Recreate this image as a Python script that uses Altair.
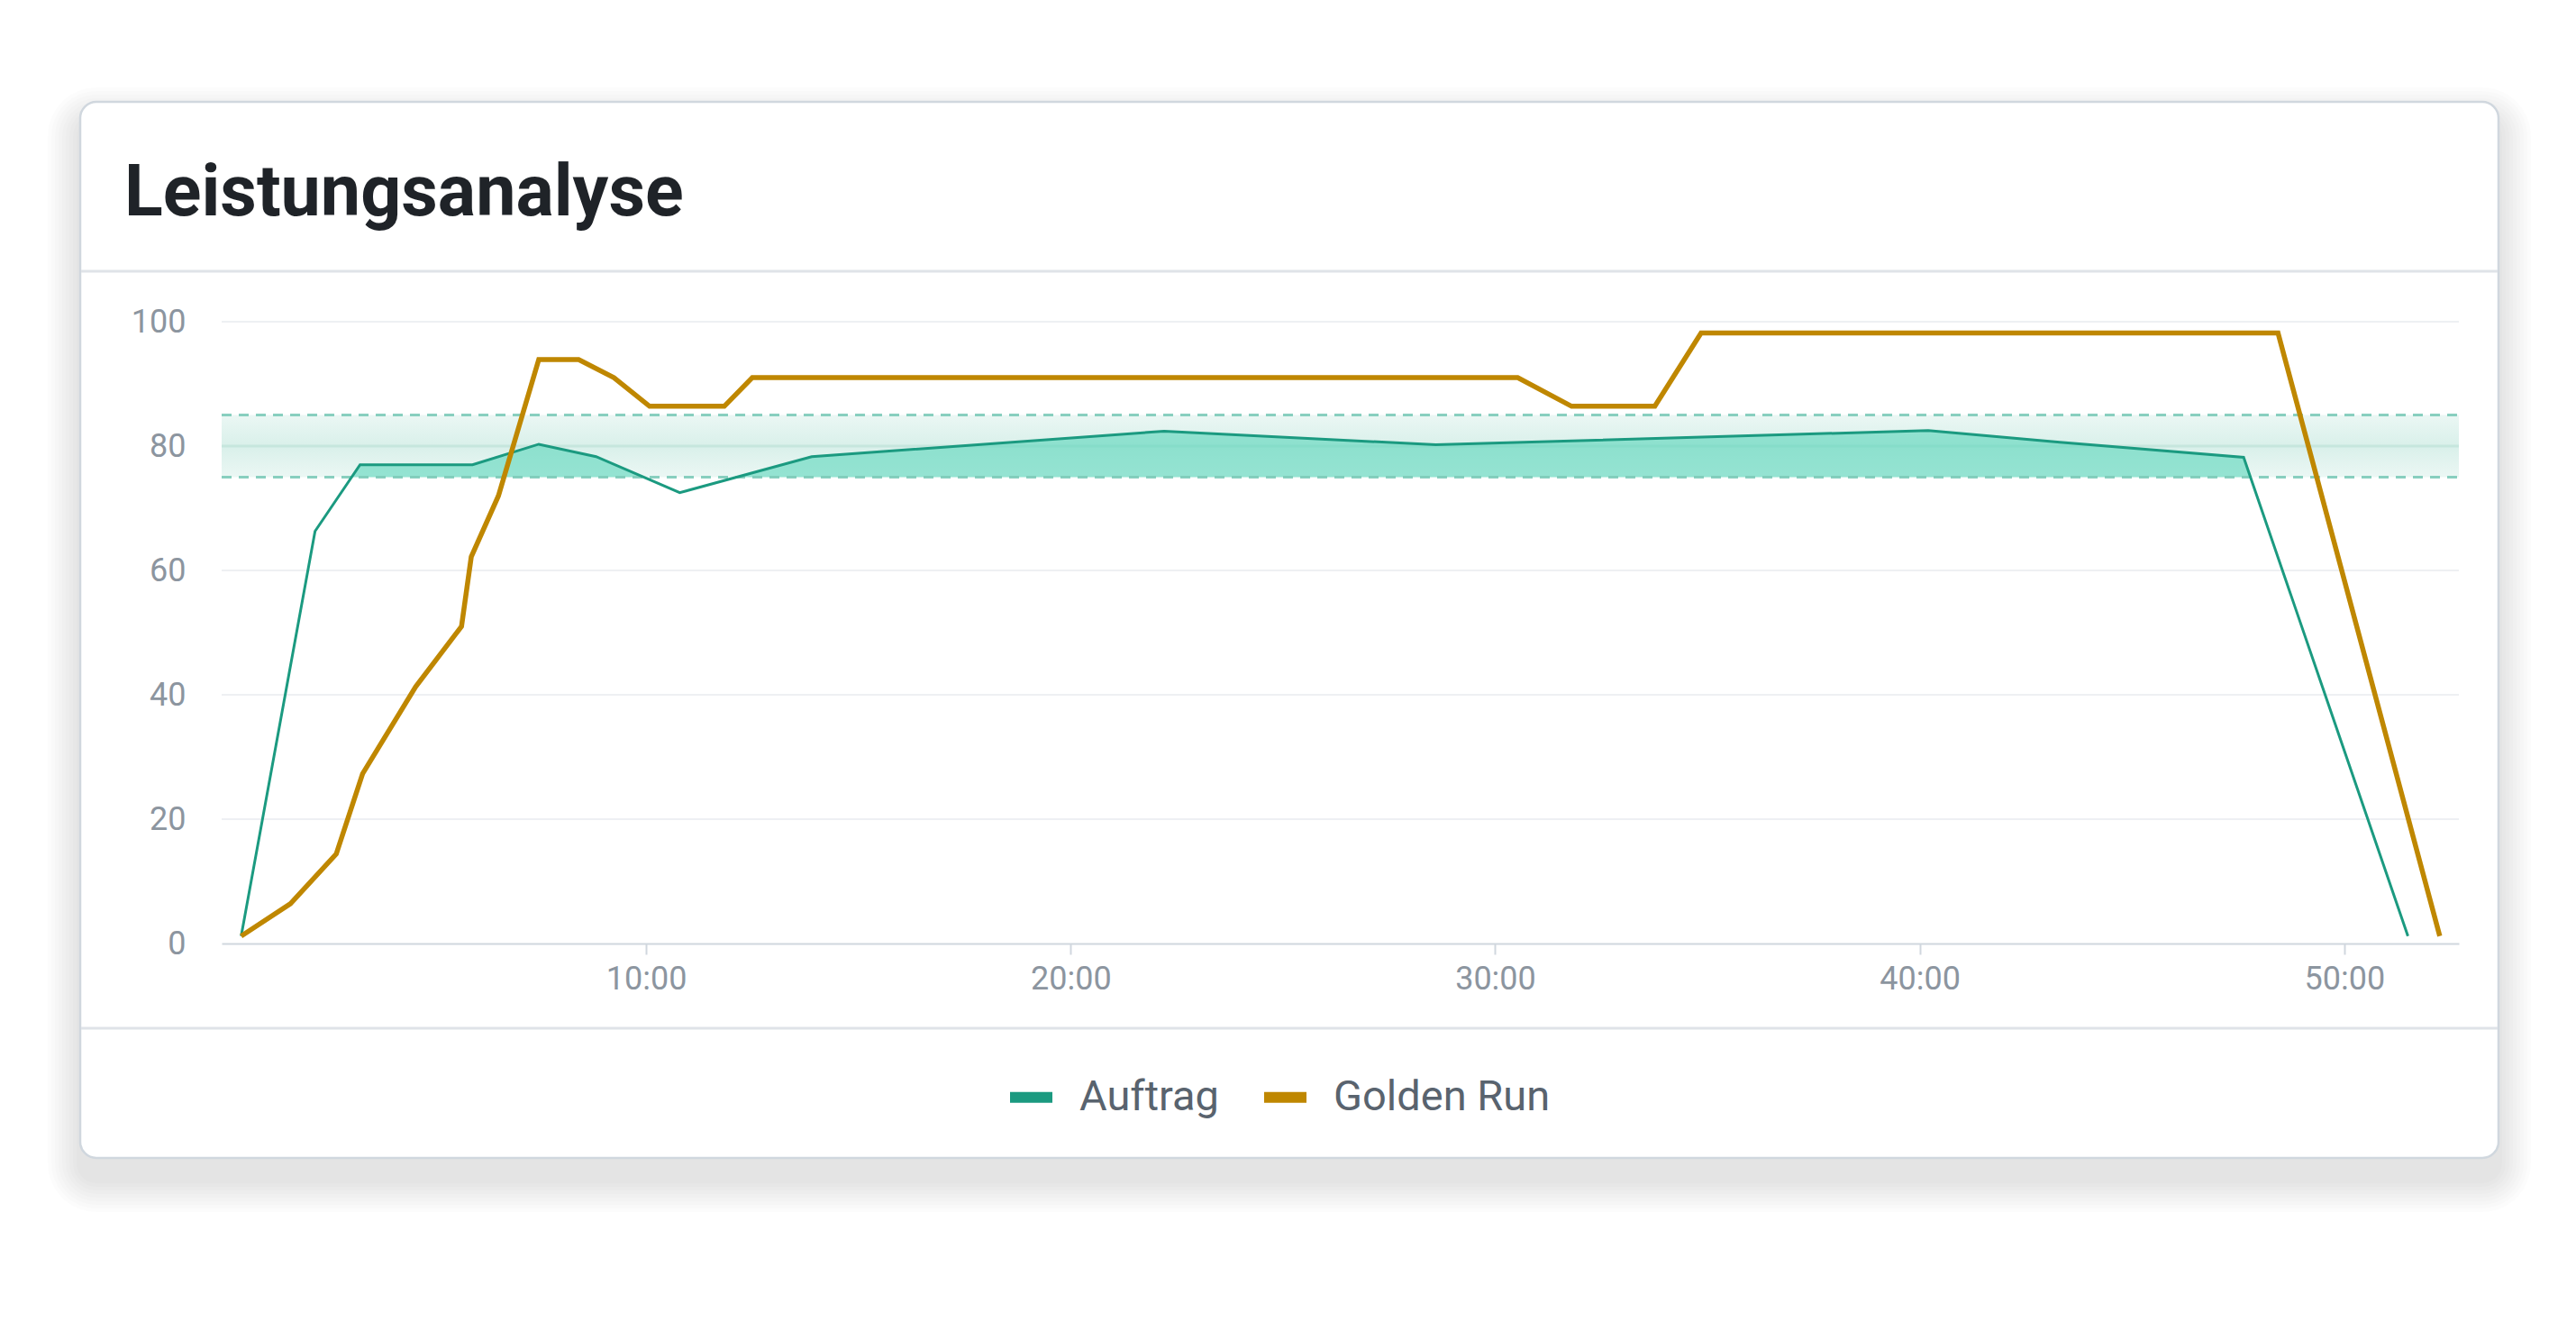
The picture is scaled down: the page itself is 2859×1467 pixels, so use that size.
import altair as alt
import pandas as pd

TITLE = "Leistungsanalyse"
SERIES = ["Auftrag", "Golden Run"]
SERIES_COLORS = ["#1b9a80", "#bf8700"]

# time in minutes, values in %
auftrag_minutes = [0.46, 2.2, 3.26, 5.91, 7.47, 8.82, 10.79, 13.9, 22.2, 28.6, 40.2, 43.3, 47.63, 51.5]
auftrag_values = [1.2, 66.3, 77.0, 77.0, 80.3, 78.3, 72.5, 78.3, 82.4, 80.2, 82.5, 80.6, 78.2, 1.2]

golden_minutes = [0.46, 1.62, 2.70, 3.32, 4.57, 5.65, 5.88, 6.52, 7.47, 8.41, 9.24, 10.08,
                  11.84, 12.5, 30.53, 31.8, 33.76, 34.85, 48.44, 52.25]
golden_values = [1.2, 6.4, 14.4, 27.3, 41.3, 51.0, 62.2, 72.0, 93.9, 93.9, 91.0, 86.4,
                 86.4, 91.0, 91.0, 86.4, 86.4, 98.2, 98.2, 1.2]

band_low = 75
band_mid = 80
band_high = 85

y_tick_values = [0, 20, 40, 60, 80, 100]
grid_values = [20, 40, 60, 80, 100]
x_tick_values = [10, 20, 30, 40, 50]
x_domain = [0, 52.7]
y_domain = [0, 100]

W, H = 2483, 690
FONT = "Roboto"
LABEL_GRAY = "#8c959f"
BORDER = "#d0d7de"

auftrag_df = pd.DataFrame({"t": auftrag_minutes, "v": auftrag_values, "series": SERIES[0]})
golden_df = pd.DataFrame({"t": golden_minutes, "v": golden_values, "series": SERIES[1]})


def clip_above(ts, vs, floor):
    """Outline of the region between the line and `floor` where the line is above it."""
    out_t, out_v = [], []
    for i in range(len(ts)):
        if i > 0:
            t0, v0, t1, v1 = ts[i - 1], vs[i - 1], ts[i], vs[i]
            if (v0 - floor) * (v1 - floor) < 0:
                tc = t0 + (floor - v0) * (t1 - t0) / (v1 - v0)
                out_t.append(tc)
                out_v.append(floor)
        out_t.append(ts[i])
        out_v.append(max(vs[i], floor))
    return out_t, out_v


ft, fv = clip_above(auftrag_minutes, auftrag_values, band_low)
fill_df = pd.DataFrame({"t": ft, "v": fv})
grid_df = pd.DataFrame({"v": grid_values})
one = pd.DataFrame({"k": [0]})

xs = alt.Scale(domain=x_domain, nice=False, zero=False)
ys = alt.Scale(domain=y_domain, nice=False)

label_expr = ("floor(datum.value) + ':' + (round((datum.value % 1) * 60) < 10 ? '0' : '') "
              "+ round((datum.value % 1) * 60)")

x_axis = alt.Axis(values=x_tick_values, labelExpr=label_expr, grid=False, domainColor=BORDER,
                  domainWidth=2, tickColor=BORDER, tickWidth=2, tickSize=12, labelPadding=10,
                  labelFont=FONT, labelFontSize=36, labelColor=LABEL_GRAY, title=None, zindex=1)
y_axis = alt.Axis(values=y_tick_values, grid=False, domain=False, ticks=False, tickSize=0,
                  labelPadding=40, labelFont=FONT, labelFontSize=36, labelColor=LABEL_GRAY,
                  title=None, zindex=1)

layers = []

# card shadow (soft, mostly below the card)
for k in range(1, 10):
    s = 4 * k
    layers.append(
        alt.Chart(one).mark_rect(color="#000000", opacity=0.012, cornerRadius=18 + s).encode(
            x=alt.value(-157 - s), x2=alt.value(2527 + s),
            y=alt.value(-244 - s + 20), y2=alt.value(928 + s + 24))
    )

# card
layers.append(
    alt.Chart(one).mark_rect(fill="#ffffff", stroke=BORDER, strokeWidth=2.5, cornerRadius=18).encode(
        x=alt.value(-157), x2=alt.value(2527), y=alt.value(-244), y2=alt.value(928))
)
# header / footer separators
for yy in (-56, 784):
    layers.append(
        alt.Chart(one).mark_rule(color="#dfe3e8", strokeWidth=3).encode(
            x=alt.value(-156), x2=alt.value(2526), y=alt.value(yy))
    )
# title
layers.append(
    alt.Chart(one).mark_text(text=TITLE, font=FONT, fontSize=79, fontWeight="bold", color="#1f2328",
                             align="left", baseline="alphabetic").encode(
        x=alt.value(-108), y=alt.value(-118))
)

# grid
layers.append(
    alt.Chart(grid_df).mark_rule(color="#eef0f3", strokeWidth=2).encode(
        y=alt.Y("v:Q", scale=ys, axis=y_axis), x=alt.value(0), x2=alt.value(W))
)

# tolerance band
band_gradient = {
    "gradient": "linear", "x1": 0, "x2": 0, "y1": 0, "y2": 1,
    "stops": [
        {"offset": 0.0, "color": "#ebf7f4"},
        {"offset": 0.5, "color": "#d9f0ea"},
        {"offset": 1.0, "color": "#ebf7f4"},
    ],
}
layers.append(
    alt.Chart(one).mark_rect(color=band_gradient).encode(
        x=alt.value(0), x2=alt.value(W),
        y=alt.datum(band_high, scale=ys, axis=y_axis), y2=alt.datum(band_low))
)
layers.append(
    alt.Chart(one).mark_rule(color="#c6e6dd", strokeWidth=3).encode(
        x=alt.value(0), x2=alt.value(W), y=alt.datum(band_mid, scale=ys, axis=y_axis))
)

# fill between Auftrag and band low where above
layers.append(
    alt.Chart(fill_df).mark_area(color="#5fd6bd", opacity=0.62).encode(
        x=alt.X("t:Q", scale=xs, axis=x_axis),
        y=alt.Y("v:Q", scale=ys, axis=y_axis),
        y2=alt.datum(band_low))
)

# dashed band bounds
for lvl in (band_high, band_low):
    layers.append(
        alt.Chart(one).mark_rule(color="#7ccab8", strokeWidth=3, strokeDash=[11, 8], opacity=0.9).encode(
            x=alt.value(0), x2=alt.value(W), y=alt.datum(lvl, scale=ys, axis=y_axis))
    )

color_scale = alt.Scale(domain=SERIES, range=SERIES_COLORS)
legend = alt.Legend(title=None, orient="none", legendX=869, legendY=831, direction="horizontal",
                    symbolType="stroke", symbolSize=2209, symbolStrokeWidth=12,
                    labelFont=FONT, labelFontSize=47, labelColor="#59636e", labelLimit=0,
                    labelOffset=24, columnPadding=26, padding=0, zindex=1)

layers.append(
    alt.Chart(auftrag_df).mark_line(strokeWidth=3).encode(
        x=alt.X("t:Q", scale=xs, axis=x_axis),
        y=alt.Y("v:Q", scale=ys, axis=y_axis),
        color=alt.Color("series:N", scale=color_scale, legend=legend))
)
layers.append(
    alt.Chart(golden_df).mark_line(strokeWidth=5.5).encode(
        x=alt.X("t:Q", scale=xs, axis=x_axis),
        y=alt.Y("v:Q", scale=ys, axis=y_axis),
        color=alt.Color("series:N", scale=color_scale, legend=legend))
)

chart = alt.layer(*layers).properties(
    width=W, height=H,
    autosize=alt.AutoSizeParams(type="none"),
    padding={"left": 238, "top": 349, "right": 100, "bottom": 380},
    background="#ffffff",
).configure_view(stroke=None)

chart.save("out.html", embed_options={"renderer": "svg", "actions": False})
